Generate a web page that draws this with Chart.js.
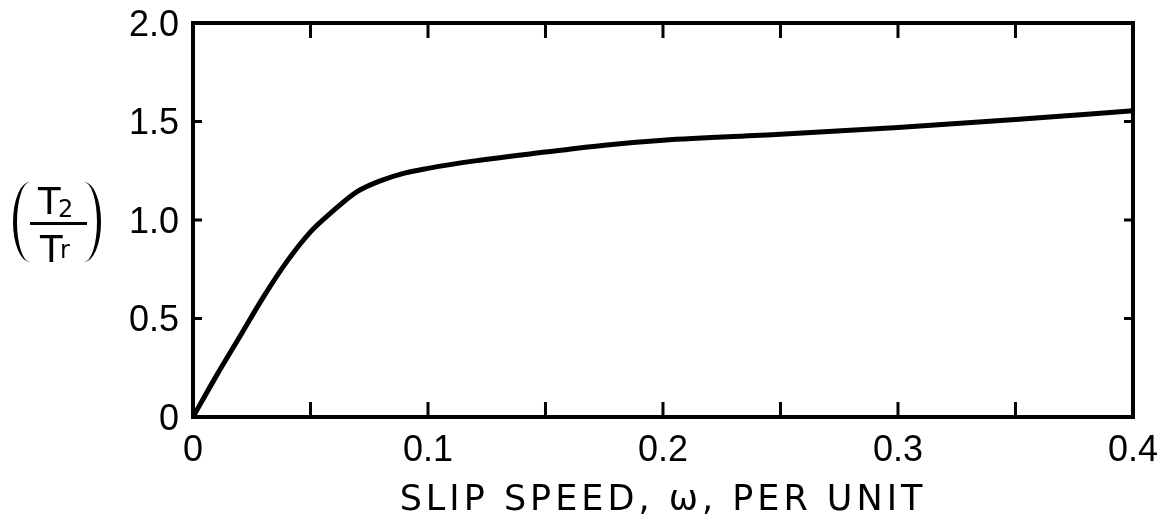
<!DOCTYPE html>
<html>
<head>
<meta charset="utf-8">
<script src="https://cdn.jsdelivr.net/npm/chart.js@4/dist/chart.umd.min.js"></script>
<style>
  body { margin: 0; background: #fff; }
  #wrap { position: relative; width: 1166px; height: 527px; }
  #xTitle {
    position: absolute; left: 313px; top: 478px; width: 700px; text-align: center;
    font-family: "DejaVu Sans", sans-serif; font-size: 35px; letter-spacing: 4px; color: #000;
    line-height: 1.164;
  }
  .yt { position: absolute; font-family: "DejaVu Sans", sans-serif; color: #000; line-height: 1; }
  .par { position: absolute; width: 30px; height: 80px; top: 182px; border-radius: 50%; }
</style>
</head>
<body>
<div id="wrap">
  <canvas id="grafica" width="1166" height="527"></canvas>
  <!-- etiqueta del eje y: (T2 / Tr) -->
  <div class="par" style="left:13px; border-left:4px solid #000;"></div>
  <div class="par" style="left:67px; border-right:4px solid #000;"></div>
  <span class="yt" style="left:38px; top:183px; font-size:37px;">T</span>
  <span class="yt" style="left:58px; top:197px; font-size:24px;">2</span>
  <div style="position:absolute; left:30px; top:222px; width:57px; height:3px; background:#000;"></div>
  <span class="yt" style="left:40px; top:231px; font-size:37px;">T</span>
  <span class="yt" style="left:60px; top:238px; font-size:24px;">r</span>
  <div id="xTitle">SLIP SPEED, ω, PER UNIT</div>
</div>
<script>
// datos
const slipSpeed = [0, 0.01, 0.02, 0.03, 0.04, 0.05, 0.06, 0.07, 0.08, 0.09, 0.1, 0.12, 0.15, 0.175, 0.2, 0.25, 0.3, 0.35, 0.4];
const torqueRatio = [0, 0.21, 0.41, 0.61, 0.79, 0.94, 1.05, 1.145, 1.2, 1.238, 1.262, 1.3, 1.345, 1.38, 1.405, 1.435, 1.47, 1.51, 1.555];

// marcas y etiquetas de los ejes
const xTickValues = [0, 0.1, 0.2, 0.3, 0.4];
const xTickText = ['0', '0.1', '0.2', '0.3', '0.4'];
const xMarkValues = [0.05, 0.1, 0.15, 0.2, 0.25, 0.3, 0.35];
const yTickValues = [0, 0.5, 1, 1.5, 2];
const yTickText = ['0', '0.5', '1.0', '1.5', '2.0'];
const yMarkValues = [0.5, 1, 1.5];

const tickFont = { family: 'Liberation Sans', size: 36, lineHeight: 1 };

// marco y marcas hacia adentro
const marcoPlugin = {
  id: 'marco',
  afterDraw(chart) {
    const { ctx, chartArea: a, scales } = chart;
    ctx.save();
    ctx.strokeStyle = '#000';
    ctx.lineWidth = 4;
    ctx.strokeRect(a.left, a.top, a.right - a.left, a.bottom - a.top);
    ctx.lineWidth = 3;
    ctx.beginPath();
    xMarkValues.forEach(v => {
      const x = scales.x.getPixelForValue(v);
      ctx.moveTo(x, a.bottom); ctx.lineTo(x, a.bottom - 15);
      ctx.moveTo(x, a.top); ctx.lineTo(x, a.top + 15);
    });
    yMarkValues.forEach(v => {
      const y = scales.y.getPixelForValue(v);
      ctx.moveTo(a.left, y); ctx.lineTo(a.left + 9, y);
      ctx.moveTo(a.right, y); ctx.lineTo(a.right - 9, y);
    });
    ctx.stroke();
    ctx.restore();
  }
};

const ctx = document.getElementById('grafica').getContext('2d');
new Chart(ctx, {
  type: 'line',
  data: {
    datasets: [{
      data: slipSpeed.map((x, i) => ({ x: x, y: torqueRatio[i] })),
      borderColor: '#000',
      borderWidth: 5,
      pointRadius: 0,
      cubicInterpolationMode: 'monotone',
      fill: false
    }]
  },
  options: {
    responsive: false,
    animation: false,
    layout: { padding: { top: 23, right: 32, left: 0, bottom: 0 } },
    plugins: { legend: { display: false }, tooltip: { enabled: false } },
    scales: {
      x: {
        type: 'linear', min: 0, max: 0.4,
        afterBuildTicks: s => { s.ticks = xTickValues.map(v => ({ value: v })); },
        afterFit: s => { s.height = 110; },
        ticks: {
          callback: (v) => xTickText[xTickValues.indexOf(v)] ?? '',
          font: tickFont, color: '#000', padding: 8, maxRotation: 0
        },
        grid: { display: false },
        border: { display: false }
      },
      y: {
        min: 0, max: 2,
        afterBuildTicks: s => { s.ticks = yTickValues.map(v => ({ value: v })); },
        afterFit: s => { s.width = 193; s.paddingTop = 0; s.paddingBottom = 0; },
        ticks: {
          callback: (v) => yTickText[yTickValues.indexOf(v)] ?? '',
          font: tickFont, color: '#000', padding: 6, labelOffset: 3
        },
        grid: { display: false },
        border: { display: false }
      }
    }
  },
  plugins: [marcoPlugin]
});
</script>
</body>
</html>
